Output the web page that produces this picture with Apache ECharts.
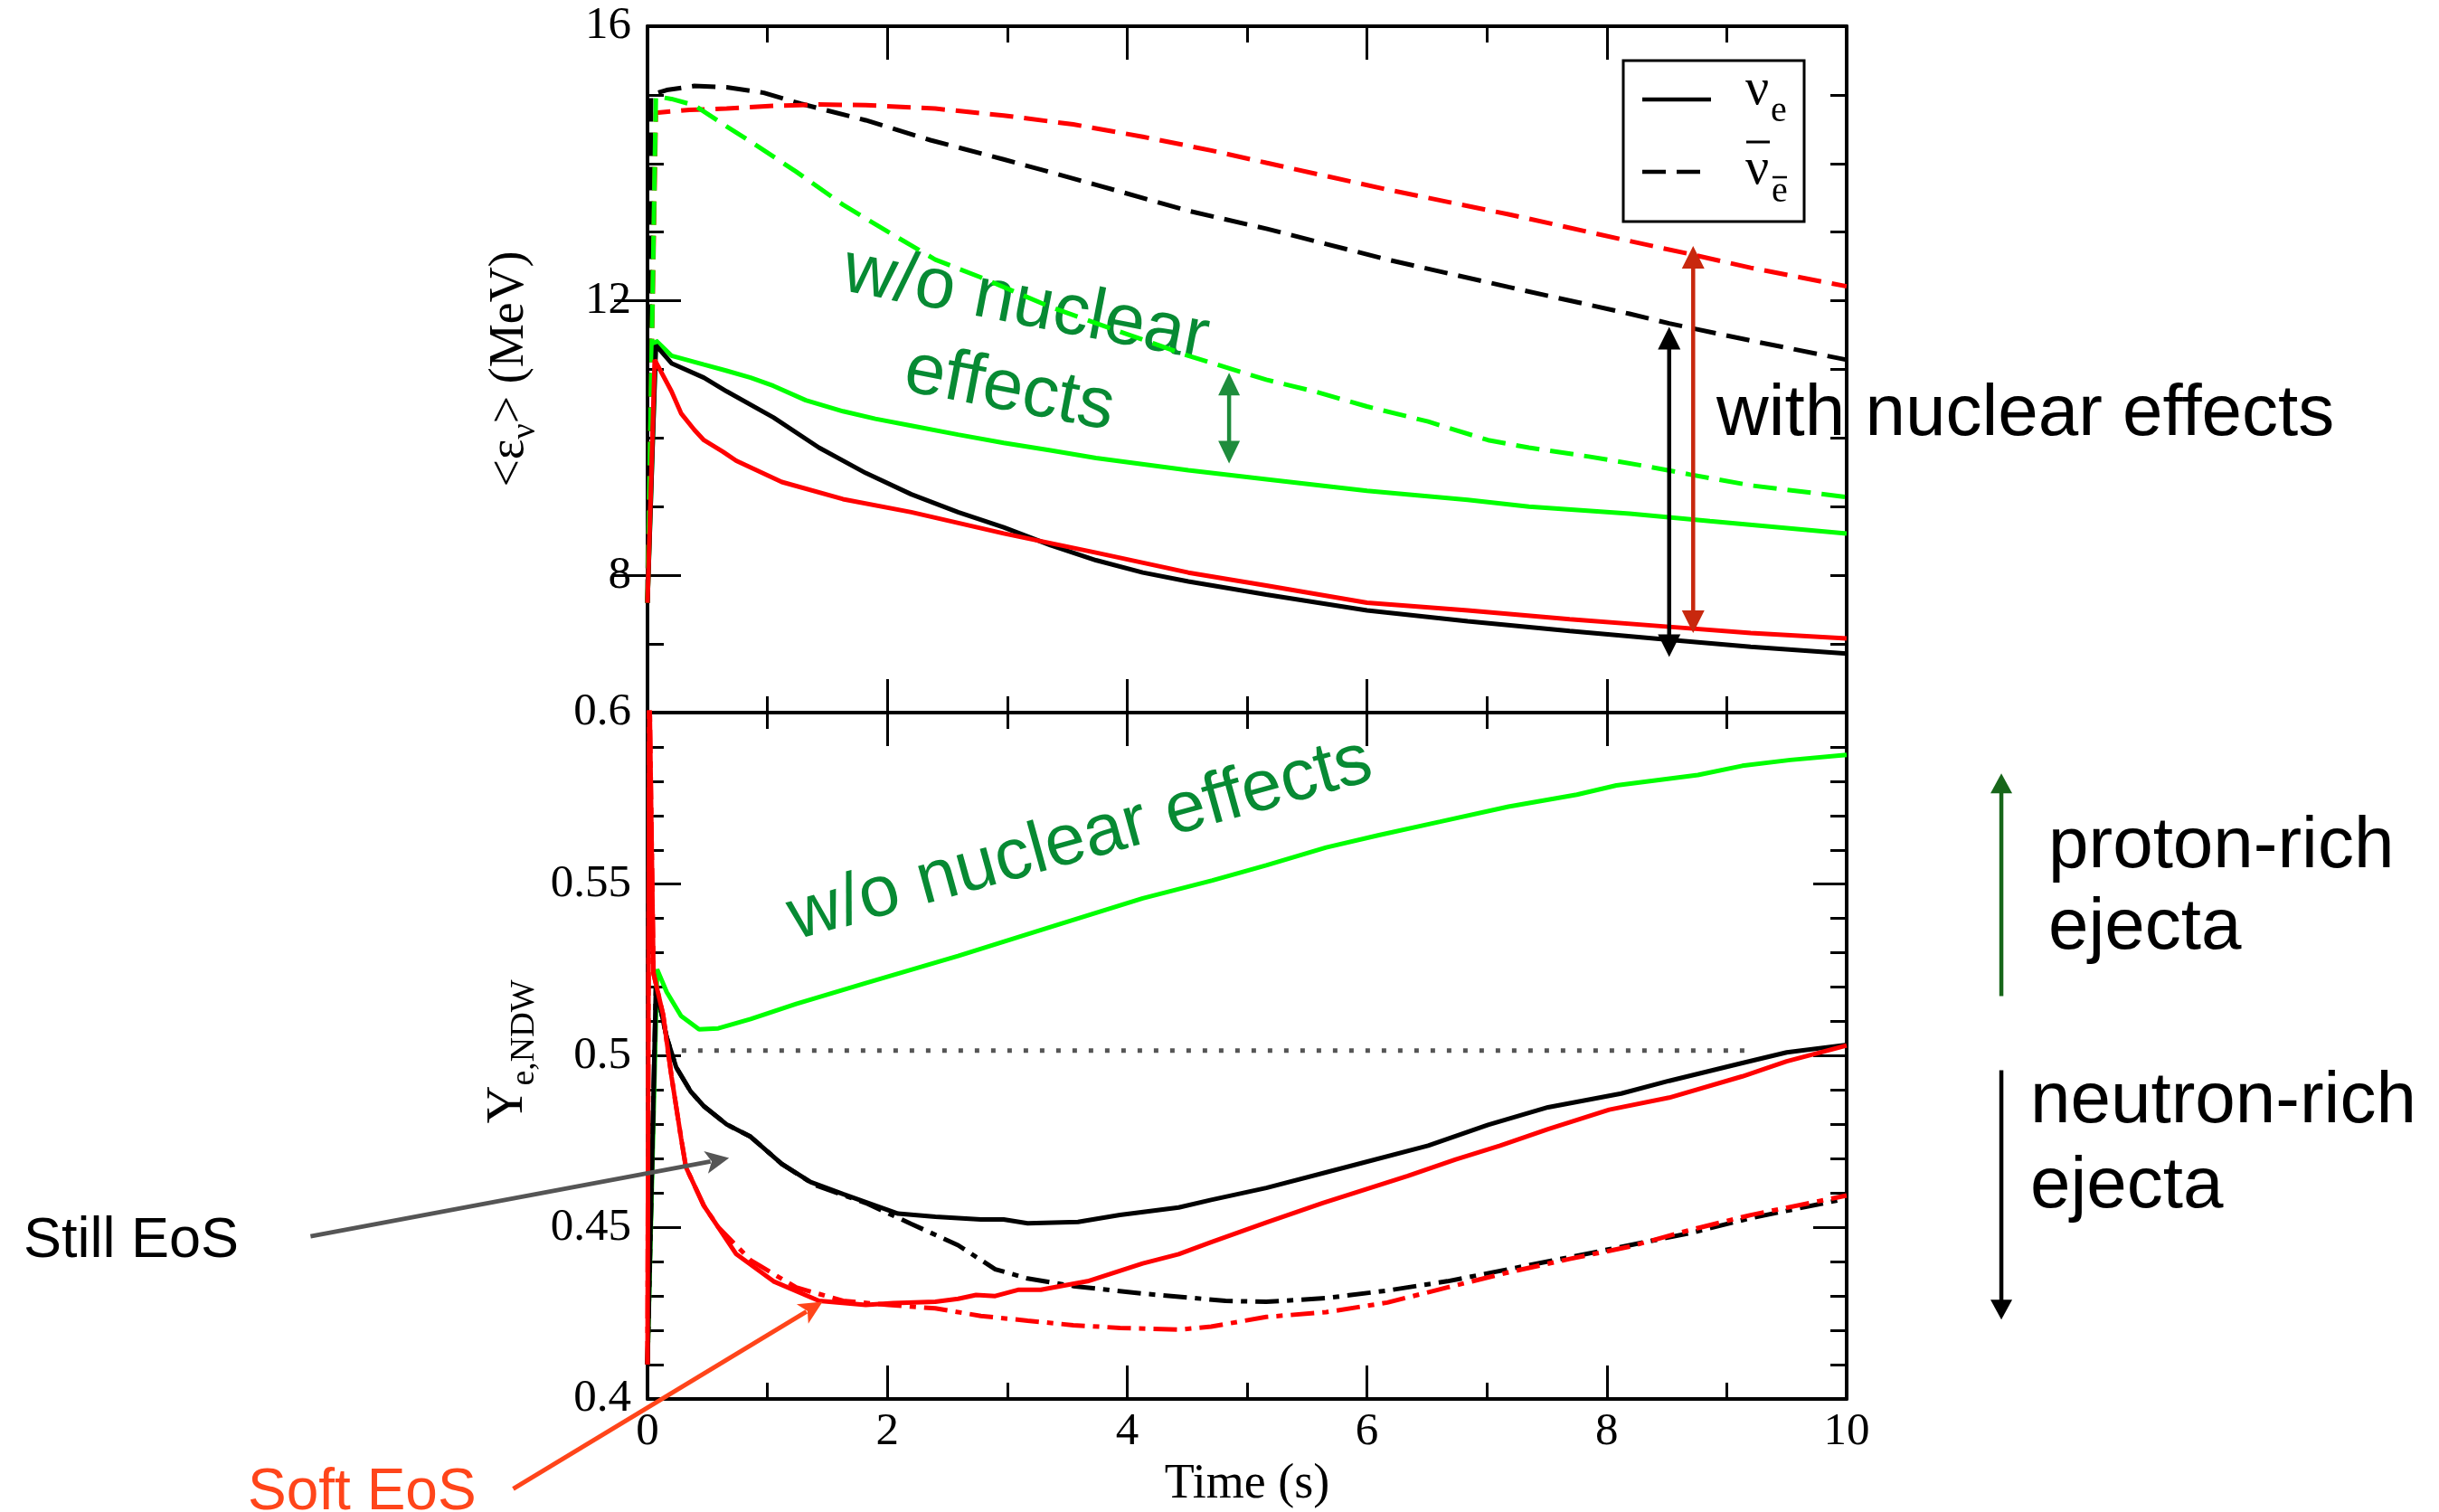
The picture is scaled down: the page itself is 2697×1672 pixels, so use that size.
<!DOCTYPE html>
<html>
<head>
<meta charset="utf-8">
<title>Mean neutrino energies and Ye of the neutrino-driven wind</title>
<script src="https://cdn.jsdelivr.net/npm/echarts@6.0.0/dist/echarts.min.js"></script>
<style>
  html, body { margin: 0; padding: 0; background: #ffffff; }
  #chart { width: 2697px; height: 1672px; }
</style>
</head>
<body>
<div id="chart"></div>
<script>
// ---------------- axes ----------------
const timeMin = 0, timeMax = 10, timeStep = 2;
const epsMin = 6, epsMax = 16;
const epsLabelValues = [8, 12, 16];
const yeMin = 0.4, yeMax = 0.6, yeStep = 0.05;

// ---------------- top panel: mean energies <eps> (MeV) as [t (s), E] ----------------
const epsNueStill = [[0,7.6],[0.07,11.35],[0.2,11.09],[0.47,10.88],[0.66,10.68],[1.05,10.3],[1.43,9.86],[1.82,9.49],[2.2,9.18],[2.59,8.92],[2.97,8.7],[3.36,8.44],[3.74,8.22],[4.13,8.04],[4.51,7.91],[5.16,7.72],[6.0,7.49],[6.84,7.33],[7.69,7.19],[8.52,7.06],[9.2,6.96],[10,6.86]];
const epsNueSoft = [[0,7.6],[0.06,11.14],[0.2,10.68],[0.28,10.36],[0.39,10.12],[0.47,9.97],[0.63,9.8],[0.74,9.67],[1.12,9.36],[1.63,9.11],[2.2,8.92],[2.97,8.61],[3.74,8.33],[4.51,8.04],[5.16,7.85],[6.0,7.6],[6.84,7.49],[7.69,7.36],[8.52,7.25],[9.2,7.16],[10,7.08]];
const epsNueNoNuc = [[0,7.6],[0.07,11.42],[0.2,11.2],[0.47,11.07],[0.66,10.98],[0.86,10.88],[1.05,10.76],[1.32,10.55],[1.63,10.39],[1.9,10.28],[2.2,10.18],[2.59,10.05],[2.97,9.93],[3.36,9.82],[3.74,9.71],[4.51,9.53],[5.16,9.4],[6.0,9.23],[6.84,9.1],[7.35,9.0],[8.19,8.9],[8.86,8.79],[10,8.61]];
const epsNuebStill = [[0,7.6],[0.03,15.0],[0.16,15.07],[0.39,15.13],[0.66,15.11],[0.97,15.03],[1.28,14.87],[1.82,14.63],[2.36,14.34],[2.97,14.06],[3.74,13.69],[4.51,13.31],[5.16,13.05],[6.17,12.6],[7.18,12.2],[8.19,11.81],[8.52,11.67],[9.2,11.42],[10,11.14]];
const epsNuebSoft = [[0,7.6],[0.07,14.74],[0.35,14.78],[0.66,14.8],[1.05,14.84],[1.43,14.86],[1.82,14.85],[2.4,14.8],[2.97,14.7],[3.55,14.57],[4.13,14.39],[4.7,14.19],[5.16,14.01],[6.17,13.62],[7.18,13.26],[8.19,12.87],[8.72,12.67],[9.2,12.48],[10,12.21]];
const epsNuebNoNuc = [[0,7.6],[0.07,14.98],[0.2,14.94],[0.39,14.85],[0.66,14.54],[0.86,14.32],[1.24,13.88],[1.63,13.4],[2.01,13.0],[2.4,12.6],[2.78,12.34],[3.36,11.91],[3.94,11.55],[4.51,11.2],[5.16,10.85],[5.56,10.68],[6.0,10.46],[6.51,10.24],[7.01,9.97],[7.35,9.86],[7.85,9.73],[8.36,9.58],[8.69,9.47],[9.2,9.31],[10,9.14]];

// ---------------- bottom panel: Ye,NDW as [t (s), Ye] ----------------
const yeNoNuc = [[0,0.41],[0.08,0.5252],[0.16,0.5186],[0.28,0.5116],[0.43,0.5077],[0.59,0.508],[0.86,0.5107],[1.24,0.5151],[1.82,0.5212],[2.59,0.5291],[3.36,0.5375],[4.13,0.5459],[4.71,0.5511],[5.16,0.5555],[5.66,0.5607],[6.1,0.5643],[6.61,0.5682],[7.18,0.5726],[7.75,0.5761],[8.08,0.5788],[8.76,0.5818],[9.13,0.5845],[9.53,0.5862],[10,0.5877]];
const yeStill = [[0,0.41],[0.07,0.5199],[0.16,0.5054],[0.24,0.4966],[0.36,0.4896],[0.47,0.4853],[0.66,0.48],[0.86,0.4764],[1.12,0.4685],[1.36,0.4632],[1.63,0.4597],[2.09,0.454],[2.4,0.4531],[2.78,0.4523],[2.97,0.4523],[3.17,0.4512],[3.59,0.4516],[3.94,0.4536],[4.43,0.4558],[4.7,0.458],[5.16,0.4615],[5.83,0.4676],[6.51,0.4738],[7.01,0.4799],[7.51,0.485],[8.12,0.489],[8.52,0.4927],[9.13,0.4979],[9.5,0.501],[10,0.5032]];
const yeSoft = [[0,0.41],[0.015,0.61],[0.05,0.524],[0.13,0.512],[0.2,0.494],[0.28,0.476],[0.32,0.4676],[0.47,0.4563],[0.74,0.4422],[1.05,0.4343],[1.43,0.4286],[1.82,0.4274],[2.05,0.4279],[2.4,0.4283],[2.59,0.4292],[2.74,0.4303],[2.9,0.43],[3.09,0.4318],[3.28,0.4318],[3.67,0.4343],[4.13,0.4395],[4.43,0.4422],[4.7,0.4457],[5.16,0.4514],[5.63,0.4571],[6.34,0.465],[6.74,0.4698],[7.11,0.4738],[7.51,0.4786],[8.02,0.4843],[8.52,0.4878],[9.13,0.494],[9.5,0.4984],[10,0.503]];
const yeStillDashDot = [[0,0.41],[0.07,0.5199],[0.16,0.5054],[0.24,0.4966],[0.36,0.4896],[0.47,0.4853],[0.66,0.48],[0.86,0.4764],[1.12,0.4685],[1.39,0.4624],[1.82,0.4571],[2.2,0.451],[2.59,0.4448],[2.9,0.4378],[3.17,0.4351],[3.55,0.4329],[4.13,0.4307],[4.82,0.4286],[5.16,0.4283],[5.66,0.4294],[6.17,0.4316],[6.67,0.4343],[7.18,0.4378],[7.69,0.4413],[8.19,0.4448],[8.69,0.4483],[9.2,0.4527],[10,0.4584]];
const yeSoftDashDot = [[0,0.41],[0.015,0.61],[0.05,0.524],[0.13,0.512],[0.2,0.494],[0.28,0.476],[0.32,0.4676],[0.47,0.4563],[0.59,0.4501],[0.86,0.4404],[1.24,0.4325],[1.63,0.4286],[2.01,0.4274],[2.4,0.4264],[2.78,0.4242],[3.17,0.4228],[3.55,0.4215],[3.94,0.4207],[4.43,0.4202],[4.7,0.4211],[5.16,0.4239],[5.66,0.4253],[6.17,0.4281],[6.67,0.4325],[7.18,0.4369],[7.69,0.4408],[8.19,0.4444],[8.69,0.4492],[9.2,0.4536],[10,0.4593]];
const yeSymmetric = [[0.15,0.5015],[9.15,0.5015]];

// ---------------- annotation arrows, in data units [t, value] (tail, tip) ----------------
const gapNoNuc = [[4.85, 10.95], [4.85, 9.63]];
const gapStill = [[8.52, 11.62], [8.52, 6.81]];
const gapSoft  = [[8.72, 12.8],  [8.72, 7.16]];
const pointerStill = [[-2.81, 0.4474], [0.68, 0.4702]];
const pointerSoft  = [[-1.12, 0.3738], [1.46, 0.4283]];
const arrowProton  = [[11.29, 0.5174], [11.29, 0.5823]];
const arrowNeutron = [[11.29, 0.4958], [11.29, 0.4231]];

// ---------------- style ----------------
const SERIF = "'Liberation Serif', 'Times New Roman', serif";
const SANS = "'Liberation Sans', Arial, Helvetica, sans-serif";
const GREEN = '#00ff00', RED = '#ff0000', BLACK = '#000000';
const ANNO_GREEN = '#078a33';
const DASH = [26, 12];
const DASH_DOT = [26, 9, 7, 9];
const LW = 5;

function xAxisFor(gridIndex, position, withLabels) {
  return {
    type: 'value', gridIndex, position, min: timeMin, max: timeMax, interval: timeStep,
    axisLine: { show: true, onZero: false, lineStyle: { color: '#000', width: 4 } },
    axisTick: { show: true, inside: true, length: 37, lineStyle: { color: '#000', width: 3 } },
    minorTick: { show: true, splitNumber: 2, length: 18, lineStyle: { color: '#000', width: 3 } },
    axisLabel: { show: withLabels, margin: 11, color: '#000', fontFamily: SERIF, fontSize: 51 },
    splitLine: { show: false }, minorSplitLine: { show: false },
    name: withLabels ? 'Time (s)' : '', nameLocation: 'middle', nameGap: 68,
    nameTextStyle: { color: '#000', fontFamily: SERIF, fontSize: 54 }
  };
}
function epsAxis(position, withLabels) {
  return {
    type: 'value', gridIndex: 0, position, min: epsMin, max: epsMax, interval: 1,
    axisLine: { show: true, onZero: false, lineStyle: { color: '#000', width: 4 } },
    axisTick: { show: true, inside: true, length: 18, lineStyle: { color: '#000', width: 3 } },
    axisLabel: { show: withLabels, margin: 18, color: '#000', fontFamily: SERIF, fontSize: 51,
      formatter: v => (epsLabelValues.indexOf(Math.round(v)) >= 0 ? String(Math.round(v)) : '') },
    splitLine: { show: false }
  };
}
function epsMajorTicks(position) {
  return {
    type: 'value', gridIndex: 0, position, min: epsMin, max: epsMax, interval: 1,
    axisLine: { show: false },
    axisTick: { show: true, inside: true, length: 37, customValues: epsLabelValues.filter(v => v < epsMax),
      lineStyle: { color: '#000', width: 3 } },
    axisLabel: { show: false }, splitLine: { show: false }
  };
}
function yeAxis(position, withLabels) {
  return {
    type: 'value', gridIndex: 1, position, min: yeMin, max: yeMax, interval: yeStep,
    axisLine: { show: true, onZero: false, lineStyle: { color: '#000', width: 4 } },
    axisTick: { show: true, inside: true, length: 37, lineStyle: { color: '#000', width: 3 } },
    minorTick: { show: true, splitNumber: 5, length: 18, lineStyle: { color: '#000', width: 3 } },
    axisLabel: { show: withLabels, margin: 18, color: '#000', fontFamily: SERIF, fontSize: 51,
      formatter: v => String(parseFloat(v.toFixed(2))) },
    splitLine: { show: false }, minorSplitLine: { show: false }
  };
}
function curve(name, data, color, dash, panel) {
  return {
    name, type: 'line', data,
    xAxisIndex: panel === 0 ? 0 : 2, yAxisIndex: panel === 0 ? 0 : 4,
    symbol: 'none', showSymbol: false, smooth: false, clip: true, z: 3,
    lineStyle: { color, width: LW, type: dash || 'solid' },
    emphasis: { disabled: true }
  };
}

const chart = echarts.init(document.getElementById('chart'), null, { renderer: 'canvas', width: 2697, height: 1672 });

chart.setOption({
  animation: false,
  backgroundColor: '#ffffff',
  grid: [
    { left: 716, top: 29, width: 1326, height: 759, outerBoundsMode: 'none' },
    { left: 716, top: 788, width: 1326, height: 759, outerBoundsMode: 'none' }
  ],
  xAxis: [xAxisFor(0, 'bottom', false), xAxisFor(0, 'top', false), xAxisFor(1, 'bottom', true), xAxisFor(1, 'top', false)],
  yAxis: [epsAxis('left', true), epsMajorTicks('left'), epsAxis('right', false), epsMajorTicks('right'),
          yeAxis('left', true), yeAxis('right', false)],
  series: [
    curve('anti-nue Still', epsNuebStill, BLACK, DASH, 0),
    curve('anti-nue Soft', epsNuebSoft, RED, DASH, 0),
    curve('anti-nue no nuclear', epsNuebNoNuc, GREEN, DASH, 0),
    curve('nue no nuclear', epsNueNoNuc, GREEN, null, 0),
    curve('nue Still', epsNueStill, BLACK, null, 0),
    curve('nue Soft', epsNueSoft, RED, null, 0),
    Object.assign(curve('Ye = 0.5', yeSymmetric, '#555555', [5, 13], 1), { z: 2, lineStyle: { color: '#555555', width: 5, type: [5, 13] } }),
    curve('Ye no nuclear', yeNoNuc, GREEN, null, 1),
    curve('Ye Still dash-dot', yeStillDashDot, BLACK, DASH_DOT, 1),
    curve('Ye Soft dash-dot', yeSoftDashDot, RED, DASH_DOT, 1),
    curve('Ye Still', yeStill, BLACK, null, 1),
    curve('Ye Soft', yeSoft, RED, null, 1)
  ]
});

// ---------------- overlay: arrows, notes, legend, axis titles ----------------
const mctx = document.createElement('canvas').getContext('2d');
function textWidth(str, font) { mctx.font = font; return mctx.measureText(str).width; }
function baselineDrop(font) {
  mctx.font = font; mctx.textBaseline = 'middle';
  const d = mctx.measureText('H').actualBoundingBoxDescent;
  mctx.textBaseline = 'alphabetic';
  return d;
}
function textEl(str, x, yBase, size, family, color, align) {
  const font = size + 'px ' + family;
  return {
    type: 'text', x, y: yBase - baselineDrop(font), z: 60, silent: true,
    style: { text: str, font, fill: color || '#000', align: align || 'left', verticalAlign: 'middle',
             textAlign: align || 'left', textVerticalAlign: 'middle' }
  };
}
function lineEl(x1, y1, x2, y2, color, width, dash) {
  return { type: 'line', z: 60, silent: true, shape: { x1, y1, x2, y2 },
           style: { stroke: color, lineWidth: width, lineDash: dash || null } };
}
function arrowEls(tail, tip, o) {
  const dx = tip[0] - tail[0], dy = tip[1] - tail[1];
  const L = Math.hypot(dx, dy), ux = dx / L, uy = dy / L;
  const hl = o.headLen, hw = o.headWidth / 2, notch = o.notch || 0;
  const head = (p, sx, sy) => {
    const bx = p[0] - sx * hl, by = p[1] - sy * hl;
    const pts = [p, [bx - sy * hw, by + sx * hw]];
    if (notch) pts.push([p[0] - sx * hl * (1 - notch), p[1] - sy * hl * (1 - notch)]);
    pts.push([bx + sy * hw, by - sx * hw]);
    return { type: 'polygon', z: 55, silent: true, shape: { points: pts }, style: { fill: o.color } };
  };
  const a = o.both ? [tail[0] + ux * hl * 0.8, tail[1] + uy * hl * 0.8] : tail;
  const b = [tip[0] - ux * hl * 0.8, tip[1] - uy * hl * 0.8];
  const els = [{ type: 'line', z: 55, silent: true, shape: { x1: a[0], y1: a[1], x2: b[0], y2: b[1] },
                 style: { stroke: o.color, lineWidth: o.width } }, head(tip, ux, uy)];
  if (o.both) els.push(head(tail, -ux, -uy));
  return els;
}
const topPx = p => chart.convertToPixel({ xAxisIndex: 0, yAxisIndex: 0 }, p);
const botPx = p => chart.convertToPixel({ xAxisIndex: 2, yAxisIndex: 4 }, p);
function rotatedTitle(pieces, bx, cy) {
  let total = 0;
  pieces.forEach(p => { p.font = p.size + 'px ' + SERIF; p.w = textWidth(p.text, p.font); total += p.w; });
  let cur = -total / 2;
  const children = pieces.map(p => {
    const el = { type: 'text', x: cur, y: p.shift - baselineDrop(p.font), silent: true,
      style: { text: p.text, font: p.font, fill: '#000', align: 'left', verticalAlign: 'middle',
               textAlign: 'left', textVerticalAlign: 'middle' } };
    cur += p.w;
    return el;
  });
  return { type: 'group', x: bx, y: cy, rotation: Math.PI / 2, z: 60, children };
}
function rotatedNote(lines, x, y, rotation, align) {
  const font = '80px ' + SANS;
  const drop = baselineDrop(font);
  return { type: 'group', x, y, rotation, z: 60,
    children: lines.map((s, i) => ({ type: 'text', x: 0, y: i * 96 - drop, silent: true,
      style: { text: s, font, fill: ANNO_GREEN, align, verticalAlign: 'middle', textAlign: align, textVerticalAlign: 'middle' } })) };
}

const elements = [];
// difference arrows in the energy panel
elements.push(...arrowEls(topPx(gapNoNuc[0]), topPx(gapNoNuc[1]), { color: '#1e8c3c', width: 4.5, headLen: 25, headWidth: 24, both: true }));
elements.push(...arrowEls(topPx(gapStill[0]), topPx(gapStill[1]), { color: '#000000', width: 4.5, headLen: 25, headWidth: 25, both: true }));
elements.push(...arrowEls(topPx(gapSoft[0]), topPx(gapSoft[1]), { color: '#c8280e', width: 4.5, headLen: 25, headWidth: 25, both: true }));
// pointers to the EoS curves and the ejecta arrows
elements.push(...arrowEls(botPx(pointerStill[0]), botPx(pointerStill[1]), { color: '#555555', width: 5, headLen: 26, headWidth: 25, notch: 0.25 }));
elements.push(...arrowEls(botPx(pointerSoft[0]), botPx(pointerSoft[1]), { color: '#ff451a', width: 5, headLen: 26, headWidth: 25, notch: 0.25 }));
elements.push(...arrowEls(botPx(arrowProton[0]), botPx(arrowProton[1]), { color: '#17661a', width: 4.5, headLen: 22, headWidth: 24 }));
elements.push(...arrowEls(botPx(arrowNeutron[0]), botPx(arrowNeutron[1]), { color: '#000000', width: 4.5, headLen: 22, headWidth: 24 }));

// notes
elements.push(rotatedNote(['w/o nuclear', 'effects'], 1130, 360, -0.19, 'center'));
elements.push(rotatedNote(['w/o nuclear effects'], 880, 1040, 0.27, 'left'));
elements.push(textEl('with nuclear effects', 1898, 482, 80, SANS, '#000'));
elements.push(textEl('proton-rich', 2265, 960, 80, SANS, '#000'));
elements.push(textEl('ejecta', 2265, 1050, 80, SANS, '#000'));
elements.push(textEl('neutron-rich', 2245, 1242, 80, SANS, '#000'));
elements.push(textEl('ejecta', 2245, 1336, 80, SANS, '#000'));
elements.push(textEl('Still EoS', 26, 1390, 63, SANS, '#000'));
elements.push(textEl('Soft EoS', 274, 1669, 64, SANS, '#ff451a'));

// legend
elements.push({ type: 'rect', z: 58, silent: true, shape: { x: 1795, y: 67, width: 200, height: 178 },
                style: { fill: '#ffffff', stroke: '#000', lineWidth: 3 } });
elements.push(lineEl(1816, 110, 1892, 110, '#000', 4.5));
elements.push(lineEl(1816, 190, 1892, 190, '#000', 4.5, DASH));
elements.push(textEl('ν', 1930, 115, 58, SERIF, '#000'));
elements.push(textEl('e', 1958, 134, 40, SERIF, '#000'));
elements.push(lineEl(1931, 157, 1957, 157, '#000', 3));
elements.push(textEl('ν', 1930, 203, 58, SERIF, '#000'));
elements.push(textEl('e', 1959, 223, 40, SERIF, '#000'));
elements.push(lineEl(1960, 196, 1976, 196, '#000', 2.5));

// axis titles
elements.push(rotatedTitle([{ text: '<ε', size: 54, shift: 0 }, { text: 'ν', size: 38, shift: 13 }, { text: '> (MeV)', size: 54, shift: 0 }], 578, 408));
elements.push(rotatedTitle([{ text: 'Y', size: 58, shift: 0 }, { text: 'e,NDW', size: 38, shift: 13 }], 577, 1163));

chart.setOption({ graphic: { elements } });
</script>
</body>
</html>
